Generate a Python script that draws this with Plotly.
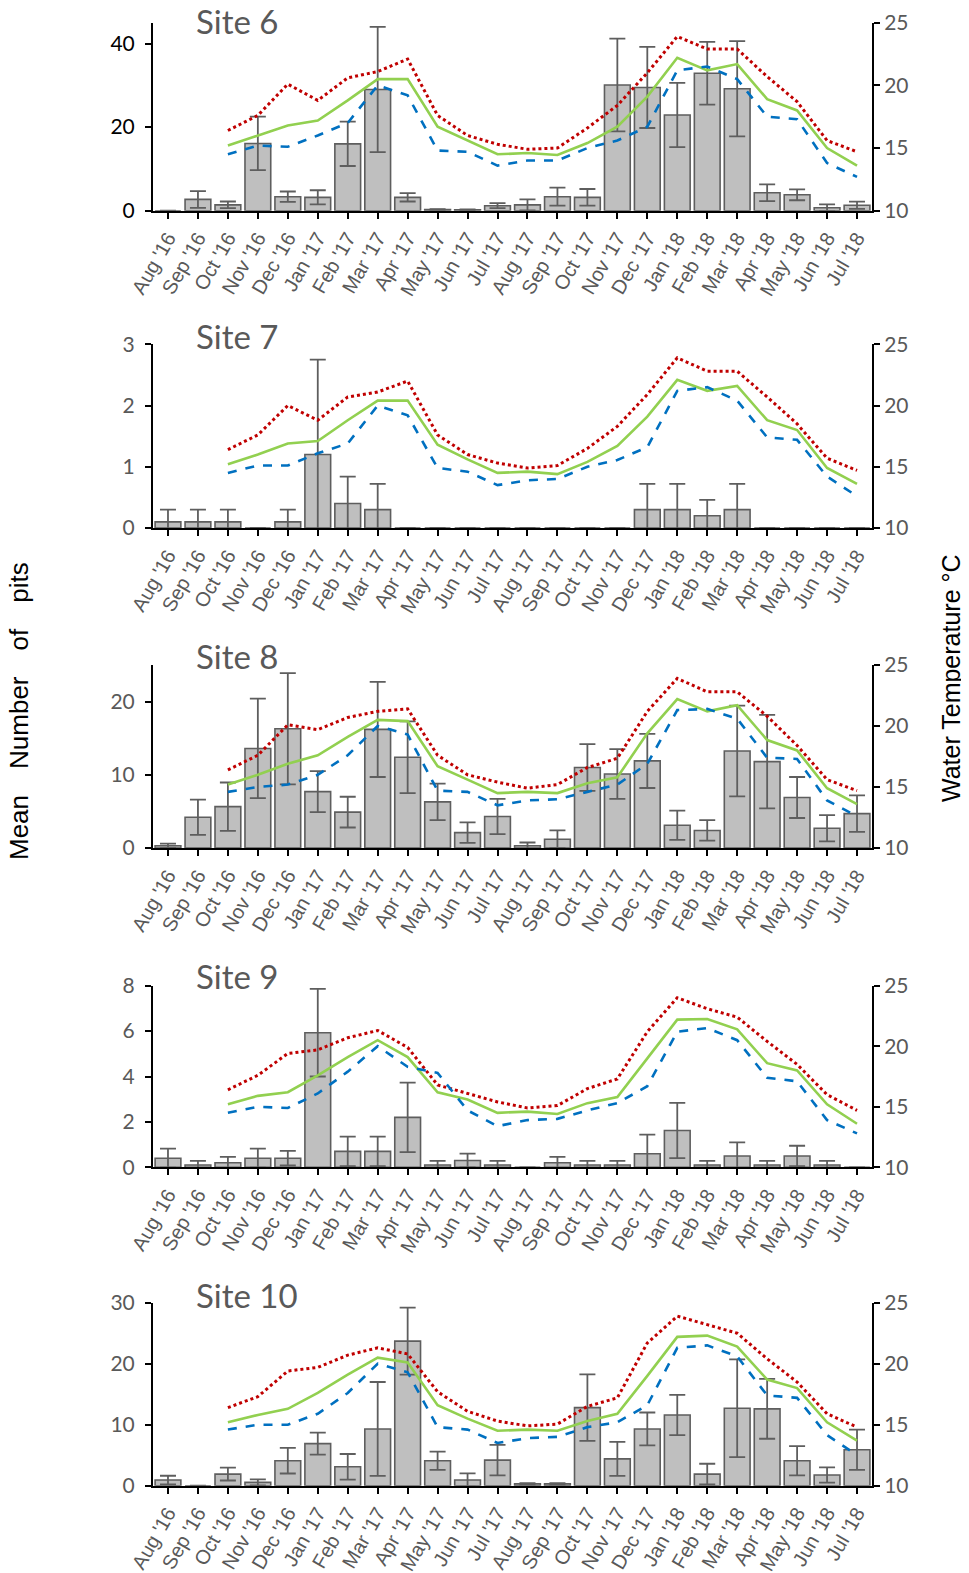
import plotly.graph_objects as go

months = ["Aug '16", "Sep '16", "Oct '16", "Nov '16", "Dec '16", "Jan '17", "Feb '17", "Mar '17",
          "Apr '17", "May '17", "Jun '17", "Jul '17", "Aug '17", "Sep '17", "Oct '17", "Nov '17",
          "Dec '17", "Jan '18", "Feb '18", "Mar '18", "Apr '18", "May '18", "Jun '18", "Jul '18"]

site_names = ["Site 6", "Site 7", "Site 8", "Site 9", "Site 10"]

# Mean number of pits (bars) and error values
pits6 = [0, 2.7, 1.4, 16.1, 3.35, 3.2, 16.0, 29.0, 3.2, 0.3, 0.2, 1.2, 1.4, 3.35, 3.2, 30.1, 29.5, 22.9, 32.9, 29.2, 4.3, 3.8, 0.7, 1.3]
err6 = [0, 2.0, 0.8, 6.4, 1.25, 1.7, 5.3, 15.0, 1.0, 0.1, 0.1, 0.6, 1.3, 2.15, 2.0, 11.1, 9.7, 7.7, 7.5, 11.4, 2.0, 1.3, 0.8, 0.85]

pits7 = [0.1, 0.1, 0.1, 0, 0.1, 1.2, 0.4, 0.3, 0, 0, 0, 0, 0, 0, 0, 0, 0.3, 0.3, 0.2, 0.3, 0, 0, 0, 0]
err7 = [0.2, 0.2, 0.2, 0, 0.2, 1.55, 0.44, 0.42, 0, 0, 0, 0, 0, 0, 0, 0, 0.42, 0.42, 0.26, 0.42, 0, 0, 0, 0]

pits8 = [0.3, 4.2, 5.65, 13.6, 16.3, 7.7, 4.9, 16.2, 12.4, 6.3, 2.1, 4.3, 0.3, 1.2, 11.0, 10.1, 11.9, 3.1, 2.4, 13.25, 11.8, 6.9, 2.7, 4.7]
err8 = [0.3, 2.4, 3.3, 6.8, 7.6, 2.8, 2.1, 6.5, 4.9, 2.5, 1.4, 2.4, 0.45, 1.2, 3.2, 3.4, 3.7, 2.0, 1.4, 6.2, 6.4, 2.8, 1.8, 2.5]

pits9 = [0.4, 0.1, 0.2, 0.4, 0.4, 5.93, 0.7, 0.7, 2.2, 0.1, 0.3, 0.1, 0, 0.2, 0.1, 0.1, 0.6, 1.62, 0.1, 0.5, 0.1, 0.5, 0.1, 0]
err9 = [0.42, 0.18, 0.26, 0.42, 0.32, 1.93, 0.65, 0.65, 1.53, 0.18, 0.3, 0.18, 0, 0.26, 0.18, 0.18, 0.84, 1.22, 0.18, 0.6, 0.18, 0.45, 0.18, 0]

pits10 = [0.93, 0, 1.9, 0.55, 4.1, 6.9, 3.1, 9.3, 23.7, 4.1, 0.93, 4.2, 0.3, 0.3, 12.8, 4.4, 9.3, 11.6, 1.9, 12.7, 12.6, 4.1, 1.75, 5.9]
err10 = [0.7, 0, 1.05, 0.5, 2.1, 1.8, 2.1, 7.7, 5.5, 1.5, 1.1, 2.5, 0.1, 0.1, 5.45, 2.8, 2.7, 3.3, 1.7, 8.0, 4.9, 2.4, 1.25, 3.3]

# Water temperature (°C): maximum (red dotted), mean (green), minimum (blue dashed)
tmax6 = [None, None, 16.4, 17.6, 20.1, 18.8, 20.6, 21.1, 22.1, 17.6, 16.0, 15.3, 14.9, 15.0, 16.6, 18.4, 21.0, 23.9, 22.9, 22.9, 20.7, 18.7, 15.6, 14.7]
tmean6 = [None, None, 15.2, 16.0, 16.8, 17.2, 18.8, 20.5, 20.5, 16.7, 15.6, 14.5, 14.6, 14.45, 15.4, 16.7, 19.1, 22.2, 21.2, 21.7, 18.9, 18.0, 15.0, 13.6]
tmin6 = [None, None, 14.5, 15.2, 15.1, 16.0, 17.0, 20.0, 19.2, 14.8, 14.7, 13.6, 14.0, 14.0, 15.0, 15.6, 16.7, 21.2, 21.5, 20.5, 17.5, 17.3, 13.8, 12.7]

tmax7 = [None, None, 16.4, 17.6, 20.0, 18.8, 20.7, 21.1, 22.0, 17.6, 16.0, 15.3, 14.9, 15.1, 16.5, 18.3, 20.9, 23.9, 22.8, 22.8, 20.7, 18.5, 15.7, 14.7]
tmean7 = [None, None, 15.2, 16.0, 16.9, 17.1, 18.8, 20.4, 20.4, 16.8, 15.6, 14.5, 14.6, 14.4, 15.4, 16.7, 19.1, 22.1, 21.2, 21.6, 18.8, 18.0, 14.9, 13.6]
tmin7 = [None, None, 14.5, 15.1, 15.1, 16.1, 16.9, 20.0, 19.2, 14.9, 14.6, 13.5, 13.9, 14.0, 15.0, 15.55, 16.6, 21.2, 21.5, 20.4, 17.4, 17.2, 14.2, 12.6]

tmax8 = [None, None, 16.4, 17.6, 20.1, 19.7, 20.7, 21.2, 21.4, 17.6, 16.0, 15.4, 14.9, 15.2, 16.6, 17.35, 21.2, 23.9, 22.8, 22.8, 20.8, 18.4, 15.6, 14.7]
tmean8 = [None, None, 15.2, 16.0, 16.9, 17.6, 19.1, 20.5, 20.4, 16.7, 15.6, 14.5, 14.6, 14.5, 15.3, 15.8, 19.4, 22.2, 21.2, 21.7, 18.85, 18.0, 14.9, 13.6]
tmin8 = [None, None, 14.6, 15.0, 15.2, 16.0, 17.6, 20.0, 19.3, 14.7, 14.6, 13.5, 13.9, 14.0, 14.6, 15.2, 16.9, 21.3, 21.4, 20.6, 17.4, 17.3, 13.9, 12.6]

tmax9 = [None, None, 16.4, 17.6, 19.4, 19.7, 20.7, 21.3, 19.9, 16.8, 16.1, 15.4, 14.9, 15.1, 16.5, 17.3, 21.2, 24.0, 23.1, 22.4, 20.4, 18.5, 16.0, 14.7]
tmean9 = [None, None, 15.2, 15.9, 16.2, 17.6, 19.1, 20.5, 19.1, 16.2, 15.6, 14.5, 14.6, 14.4, 15.3, 15.8, 19.0, 22.2, 22.25, 21.4, 18.6, 18.0, 15.2, 13.6]
tmin9 = [None, None, 14.5, 15.0, 14.9, 16.1, 17.9, 20.0, 18.3, 17.8, 14.7, 13.4, 13.9, 14.0, 14.7, 15.3, 16.7, 21.2, 21.5, 20.5, 17.4, 17.1, 13.9, 12.8]

tmax10 = [None, None, 16.4, 17.3, 19.4, 19.7, 20.7, 21.3, 20.8, 17.7, 16.1, 15.3, 14.9, 15.05, 16.5, 17.2, 21.7, 23.9, 23.2, 22.5, 20.4, 18.5, 15.9, 14.8]
tmean10 = [None, None, 15.2, 15.8, 16.3, 17.6, 19.1, 20.5, 20.1, 16.6, 15.5, 14.5, 14.6, 14.5, 15.3, 15.9, 19.0, 22.2, 22.3, 21.4, 18.7, 18.0, 15.2, 13.7]
tmin10 = [None, None, 14.6, 15.0, 15.0, 15.9, 17.6, 20.0, 19.3, 14.8, 14.6, 13.5, 13.9, 14.0, 14.8, 15.2, 16.6, 21.3, 21.5, 20.6, 17.4, 17.2, 14.15, 12.5]

pits = [pits6, pits7, pits8, pits9, pits10]
errs = [err6, err7, err8, err9, err10]
tmaxs = [tmax6, tmax7, tmax8, tmax9, tmax10]
tmeans = [tmean6, tmean7, tmean8, tmean9, tmean10]
tmins = [tmin6, tmin7, tmin8, tmin9, tmin10]

left_ranges = [[0, 45], [0, 3], [0, 25], [0, 8], [0, 30]]
left_dticks = [20, 1, 10, 2, 10]
left_tick_colors = ["#000000", "#595959", "#595959", "#595959", "#595959"]

# page is 969x1573; the html body has an 8px margin, so the figure is offset by 8px
OFF = 8
FW, FH = 969 - OFF, 1573 - OFF


def px_x(p):
    return (p - OFF) / FW


def px_y(p):
    return 1 - (p - OFF) / FH


x_dom = [px_x(153), px_x(872)]
# panel (top, bottom) in page pixels
panels = [(22.7, 210.7), (344.3, 528.0), (665.0, 848.0), (985.7, 1167.3), (1302.7, 1485.7)]
title_y = [22.5, 338.0, 658.0, 978.0, 1296.5]

GREY = "#595959"
NUM_FONT = "Lato"
TXT_FONT = "Liberation Sans"

fig = go.Figure()
layout = dict(
    width=FW, height=FH, template="none",
    paper_bgcolor="white", plot_bgcolor="rgba(0,0,0,0)",
    margin=dict(l=0, r=0, t=0, b=0), showlegend=False,
    font=dict(family=TXT_FONT, color=GREY),
    annotations=[],
)

for k in range(5):
    xa = "x" if k == 0 else f"x{k + 1}"
    yl = f"y{2 * k + 1}" if k > 0 else "y"
    yr = f"y{2 * k + 2}"
    xkey = "xaxis" if k == 0 else f"xaxis{k + 1}"
    ylkey = "yaxis" if k == 0 else f"yaxis{2 * k + 1}"
    yrkey = f"yaxis{2 * k + 2}"

    fig.add_trace(go.Bar(
        x=months, y=pits[k], xaxis=xa, yaxis=yl, width=0.86,
        marker=dict(color="#BFBFBF", line=dict(color="#5E5E5E", width=1.6)),
        error_y=dict(type="data", array=errs[k], color="#5E5E5E", thickness=1.8, width=8),
        hoverinfo="skip",
    ))
    fig.add_trace(go.Scatter(
        x=months, y=tmaxs[k], xaxis=xa, yaxis=yr, mode="lines",
        line=dict(color="#C00000", width=3, dash="dot"), connectgaps=False,
    ))
    fig.add_trace(go.Scatter(
        x=months, y=tmeans[k], xaxis=xa, yaxis=yr, mode="lines",
        line=dict(color="#92D050", width=2.6), connectgaps=False,
    ))
    fig.add_trace(go.Scatter(
        x=months, y=tmins[k], xaxis=xa, yaxis=yr, mode="lines",
        line=dict(color="#0070C0", width=2.6, dash="dash"), connectgaps=False,
    ))

    top, bot = panels[k]
    ydom = [px_y(bot), px_y(top)]

    layout[xkey] = dict(
        domain=x_dom, anchor=yl, type="category", categoryorder="array", categoryarray=months,
        range=[-0.5, 23.5], tickangle=-60, ticks="outside", ticklen=6, tickwidth=1.5,
        tickcolor="black", showline=True, linecolor="black", linewidth=2, showgrid=False,
        zeroline=False, automargin=False,
        tickfont=dict(family=TXT_FONT, size=20, color=GREY),
    )
    layout[ylkey] = dict(
        domain=ydom, anchor=xa, range=left_ranges[k], dtick=left_dticks[k], tick0=0,
        ticks="outside", ticklen=6, tickwidth=1.5, tickcolor="black",
        showline=True, linecolor="black", linewidth=2, showgrid=False, zeroline=False,
        automargin=False, ticklabelstandoff=6,
        tickfont=dict(family=NUM_FONT, size=21, color=left_tick_colors[k]),
    )
    layout[yrkey] = dict(
        overlaying=yl, anchor=xa, side="right", range=[10, 25], dtick=5, tick0=10,
        ticks="outside", ticklen=6, tickwidth=1.5, tickcolor="black",
        showline=True, linecolor="black", linewidth=2, showgrid=False, zeroline=False,
        automargin=False, tickfont=dict(family=NUM_FONT, size=21, color=GREY),
    )
    layout["annotations"].append(dict(
        text=site_names[k], xref="paper", yref="paper", x=px_x(194), y=px_y(title_y[k] - 2),
        xanchor="left", yanchor="middle", showarrow=False,
        font=dict(family=NUM_FONT, size=33, color=GREY),
    ))

sp = "\u2003"
layout["annotations"].append(dict(
    text=f"Mean{sp}Number{sp}of{sp}pits", xref="paper", yref="paper",
    x=px_x(19), y=px_y(711), textangle=-90, showarrow=False, xanchor="center", yanchor="middle",
    font=dict(family=TXT_FONT, size=26, color="black"),
))
layout["annotations"].append(dict(
    text="Water Temperature °C", xref="paper", yref="paper",
    x=px_x(951), y=px_y(678), textangle=-90, showarrow=False, xanchor="center", yanchor="middle",
    font=dict(family=TXT_FONT, size=25, color="black"),
))

fig.update_layout(**layout)
fig.write_html("out.html")
